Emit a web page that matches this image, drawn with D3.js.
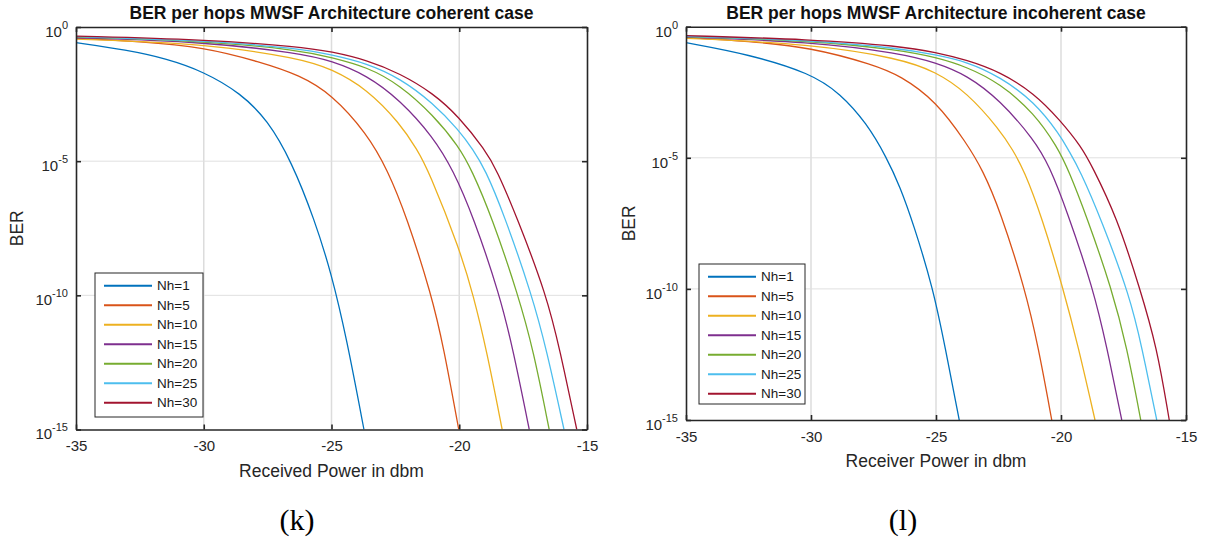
<!DOCTYPE html>
<html>
<head>
<meta charset="utf-8">
<script src="https://cdn.jsdelivr.net/npm/d3@7"></script>
<style>
  body { margin: 0; background: #fff; }
  svg { display: block; }
</style>
</head>
<body>
<script>
// values: [received power dBm, log10(BER)]
const hops = [1, 5, 10, 15, 20, 25, 30];
const lineColors = ["#0072BD", "#D95319", "#EDB120", "#7E2F8E", "#77AC30", "#4DBEEE", "#A2142F"];
const xTicks = [-35, -30, -25, -20, -15];
const yTickExps = [0, -5, -10, -15];

// coherent case (k)
const cohNh1 = [[-35,-0.585],[-33,-0.86],[-31.5,-1.17],[-30,-1.66],[-28.55,-2.47],[-27.5,-3.47],[-26.57,-5.0],[-25.66,-7.19],[-25,-9.2],[-24.41,-11.6],[-23.73,-15]];
const cohNh5 = [[-35,-0.42],[-32.5,-0.54],[-30,-0.75],[-27.8,-1.3],[-26.23,-1.8],[-25,-2.5],[-23.62,-3.96],[-22.8,-5.33],[-22.06,-7.07],[-21.08,-10],[-20.62,-11.9],[-20.02,-15]];
const cohNh10 = [[-35,-0.45],[-30,-0.61],[-26.23,-1.17],[-25,-1.56],[-23.62,-2.3],[-22.32,-3.59],[-21.64,-4.58],[-21.21,-5.33],[-19.97,-8.31],[-19.45,-10],[-18.93,-12.04],[-18.32,-15]];
const cohNh15 = [[-35,-0.40],[-30,-0.55],[-26.23,-0.98],[-25,-1.26],[-23.62,-1.79],[-22.32,-2.72],[-21.02,-4.1],[-20.24,-5.33],[-19.45,-7.07],[-18.41,-10],[-17.89,-12.04],[-17.26,-15]];
const cohNh20 = [[-35,-0.37],[-30,-0.52],[-26.23,-0.86],[-25,-1.14],[-23.62,-1.48],[-22.32,-2.16],[-21.02,-3.28],[-20.02,-4.45],[-19.51,-5.33],[-18.73,-7.07],[-17.69,-10],[-17.1,-12.04],[-16.48,-15]];
const cohNh25 = [[-35,-0.36],[-30,-0.50],[-26.23,-0.80],[-25,-1.04],[-23.62,-1.35],[-22.32,-1.91],[-21.02,-2.84],[-20.02,-3.84],[-19.45,-4.58],[-18.99,-5.3],[-18.28,-6.9],[-17.15,-10],[-16.58,-12.04],[-15.9,-15]];
const cohNh30 = [[-35,-0.34],[-30,-0.47],[-26.23,-0.73],[-25,-0.92],[-23.62,-1.23],[-22.32,-1.73],[-21.02,-2.47],[-20.02,-3.34],[-18.99,-4.58],[-18.53,-5.33],[-17.75,-7.07],[-16.58,-10],[-16.06,-12.04],[-15.4,-15]];

// incoherent case (l)
const incNh1 = [[-35,-0.61],[-32.5,-1.05],[-30,-1.78],[-28.84,-2.54],[-27.77,-3.68],[-26.97,-5.0],[-26.44,-6.1],[-25.91,-7.5],[-25.11,-10],[-24.64,-12.2],[-24.07,-15]];
const incNh5 = [[-35,-0.41],[-32.5,-0.55],[-30,-0.79],[-27.5,-1.45],[-26.44,-1.86],[-25,-2.83],[-23.77,-4.45],[-23.13,-5.47],[-22.44,-7.0],[-21.44,-10],[-20.91,-12.2],[-20.37,-15]];
const incNh10 = [[-35,-0.44],[-30,-0.66],[-26.44,-1.21],[-25,-1.72],[-23.77,-2.5],[-22.44,-3.94],[-21.93,-4.70],[-21.48,-5.47],[-20.77,-7.25],[-19.91,-10],[-19.31,-12.2],[-18.64,-15]];
const incNh15 = [[-35,-0.40],[-30,-0.57],[-26.44,-1.01],[-25,-1.37],[-23.77,-1.84],[-22.44,-2.80],[-21.07,-4.32],[-20.47,-5.3],[-19.77,-7.0],[-18.71,-10],[-18.17,-12.2],[-17.57,-15]];
const incNh20 = [[-35,-0.38],[-30,-0.53],[-26.44,-0.89],[-25,-1.17],[-23.77,-1.53],[-22.44,-2.16],[-21.07,-3.30],[-20.14,-4.6],[-19.7,-5.47],[-18.97,-7.25],[-17.97,-10],[-17.37,-12.2],[-16.81,-15]];
const incNh25 = [[-35,-0.37],[-30,-0.51],[-26.44,-0.82],[-25,-1.08],[-23.77,-1.33],[-22.44,-1.91],[-21.07,-2.86],[-20.04,-4.13],[-19.71,-4.70],[-19.24,-5.47],[-18.37,-7.4],[-17.24,-10.3],[-16.77,-12.2],[-16.17,-15]];
const incNh30 = [[-35,-0.34],[-30,-0.48],[-26.44,-0.74],[-25,-0.98],[-23.77,-1.27],[-22.44,-1.72],[-21.07,-2.54],[-20.04,-3.56],[-19.17,-4.6],[-18.77,-5.3],[-17.77,-7.25],[-16.84,-10],[-16.17,-12.2],[-15.67,-15]];

const W = 1212, H = 542;
const txt = "#262626";
const sans = "Arial, 'Liberation Sans', sans-serif";

const svg = d3.select("body").append("svg")
  .attr("width", W)
  .attr("height", H)
  .style("font-family", sans);

function drawPanel(p) {
  const x = d3.scaleLinear().domain([-35, -15]).range([p.left, p.right]);
  const y = d3.scaleLog().domain([1e-15, 1]).range([p.bottom, p.top]);
  const g = svg.append("g");

  // grid
  g.selectAll(".gx").data(xTicks.slice(1, -1)).join("line")
    .attr("x1", d => x(d)).attr("x2", d => x(d))
    .attr("y1", p.top).attr("y2", p.bottom)
    .attr("stroke", "#dcdcdc").attr("stroke-width", 1.5);
  g.selectAll(".gy").data(yTickExps.slice(1, -1)).join("line")
    .attr("x1", p.left).attr("x2", p.right)
    .attr("y1", d => y(Math.pow(10, d))).attr("y2", d => y(Math.pow(10, d)))
    .attr("stroke", "#e0e0e0").attr("stroke-width", 1);

  // curves
  const clipId = "clip" + p.id;
  svg.append("clipPath").attr("id", clipId).append("rect")
    .attr("x", p.left).attr("y", p.top)
    .attr("width", p.right - p.left).attr("height", p.bottom - p.top);

  const line = d3.line()
    .x(d => x(d[0]))
    .y(d => y(Math.pow(10, d[1])))
    .curve(d3.curveBasis);

  g.append("g").attr("clip-path", `url(#${clipId})`)
    .selectAll("path").data(p.series).join("path")
    .attr("d", line)
    .attr("fill", "none")
    .attr("stroke", (d, i) => lineColors[i])
    .attr("stroke-width", 1.3);

  // axes (box with inward ticks)
  const yTickVals = yTickExps.map(e => Math.pow(10, e));
  const axB = g.append("g").attr("transform", `translate(0,${p.bottom})`)
    .call(d3.axisBottom(x).tickValues(xTicks).tickSize(-5).tickSizeOuter(0).tickPadding(11).tickFormat(d => String(d)));
  const axT = g.append("g").attr("transform", `translate(0,${p.top})`)
    .call(d3.axisTop(x).tickValues(xTicks).tickSize(-5).tickSizeOuter(0).tickFormat(""));
  const axL = g.append("g").attr("transform", `translate(${p.left},0)`)
    .call(d3.axisLeft(y).tickValues(yTickVals).tickSize(-5).tickSizeOuter(0).tickPadding(8).tickFormat(""));
  const axR = g.append("g").attr("transform", `translate(${p.right},0)`)
    .call(d3.axisRight(y).tickValues(yTickVals).tickSize(-5).tickSizeOuter(0).tickFormat(""));

  [axB, axT, axL, axR].forEach(a => {
    a.select(".domain").attr("stroke", txt).attr("stroke-width", 1.6);
    a.selectAll(".tick line").attr("stroke", txt).attr("stroke-width", 1.6);
  });

  axB.selectAll(".tick text")
    .attr("fill", txt).attr("font-size", 15).attr("font-family", sans);

  axL.selectAll(".tick text").each(function(d) {
    const t = d3.select(this);
    t.attr("fill", txt).attr("font-size", 15).attr("dy", "0.62em").attr("font-family", sans);
    t.append("tspan").text("10");
    t.append("tspan").attr("dy", -8).attr("font-size", 11).text(String(Math.round(Math.log10(d))));
  });

  // titles and labels
  svg.append("text")
    .attr("x", (p.left + p.right) / 2).attr("y", 19)
    .attr("text-anchor", "middle").attr("font-weight", "bold")
    .attr("font-size", 17.5).attr("fill", "#111")
    .text(p.title);

  svg.append("text")
    .attr("x", (p.left + p.right) / 2).attr("y", p.bottom + 47)
    .attr("text-anchor", "middle").attr("font-size", 17.5).attr("fill", txt)
    .text(p.xLabel);

  svg.append("text")
    .attr("transform", `translate(${p.yLabelX},${(p.top + p.bottom) / 2}) rotate(-90)`)
    .attr("text-anchor", "middle").attr("font-size", 17.5).attr("fill", txt)
    .text("BER");

  svg.append("text")
    .attr("x", p.captionX).attr("y", 530)
    .attr("text-anchor", "middle").attr("font-size", 30)
    .style("font-family", "'Liberation Serif', 'Times New Roman', serif")
    .attr("fill", "#000")
    .text(p.caption);

  // legend
  const lg = svg.append("g").attr("transform", `translate(${p.legX},${p.legY})`);
  lg.append("rect")
    .attr("width", p.legW).attr("height", p.legH)
    .attr("fill", "#fff").attr("stroke", txt).attr("stroke-width", 1);
  const item = lg.selectAll(".item").data(hops).join("g")
    .attr("transform", (d, i) => `translate(0,${12.7 + i * 19.5})`);
  item.append("line")
    .attr("x1", 9).attr("x2", 57)
    .attr("stroke", (d, i) => lineColors[i]).attr("stroke-width", 2);
  item.append("text")
    .attr("x", 62).attr("dy", "0.35em")
    .attr("font-size", 13.5).attr("fill", "#1a1a1a")
    .text(d => "Nh=" + d);
}

drawPanel({
  id: "k",
  left: 76, right: 587, top: 27, bottom: 429.5,
  series: [cohNh1, cohNh5, cohNh10, cohNh15, cohNh20, cohNh25, cohNh30],
  title: "BER per hops MWSF Architecture coherent case",
  xLabel: "Received Power in dbm",
  yLabelX: 23,
  caption: "(k)", captionX: 297,
  legX: 95, legY: 273, legW: 108, legH: 144
});

drawPanel({
  id: "l",
  left: 686, right: 1186, top: 26.7, bottom: 420,
  series: [incNh1, incNh5, incNh10, incNh15, incNh20, incNh25, incNh30],
  title: "BER per hops MWSF Architecture incoherent case",
  xLabel: "Receiver Power in dbm",
  yLabelX: 635,
  caption: "(l)", captionX: 903,
  legX: 699, legY: 264, legW: 106, legH: 140
});
</script>
</body>
</html>
